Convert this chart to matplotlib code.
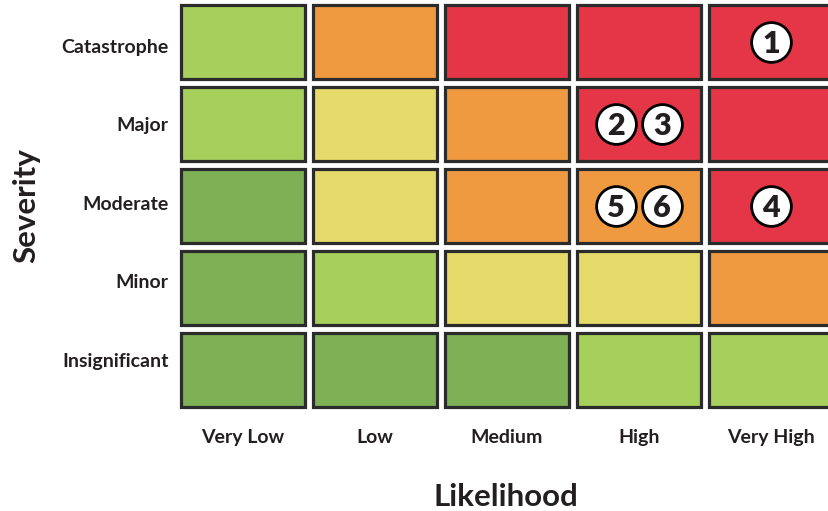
import numpy as np
import matplotlib
matplotlib.use("Agg")
import matplotlib.pyplot as plt
from matplotlib.patches import Rectangle

plt.rcParams["font.family"] = ["Lato", "DejaVu Sans"]

# data
SEVERITY = ["Catastrophe", "Major", "Moderate", "Minor", "Insignificant"]  # top to bottom
LIKELIHOOD = ["Very Low", "Low", "Medium", "High", "Very High"]
# risk level of each cell (rows follow SEVERITY, columns follow LIKELIHOOD)
LEVELS = [
    ["LG", "O", "R", "R", "R"],
    ["LG", "Y", "O", "R", "R"],
    ["DG", "Y", "O", "O", "R"],
    ["DG", "LG", "Y", "Y", "O"],
    ["DG", "DG", "DG", "LG", "LG"],
]
RISK_IDS = [1, 2, 3, 4, 5, 6]
RISK_LIKELIHOOD = ["Very High", "High", "High", "Very High", "High", "High"]
RISK_SEVERITY = ["Catastrophe", "Major", "Major", "Moderate", "Moderate", "Moderate"]

COLORS = {"DG": "#7EB056", "LG": "#A7CF5B", "Y": "#E5DA6A", "O": "#EF9A41", "R": "#E43646"}
EDGE = "#2B2B2B"
TXT = "#231F20"

fig = plt.figure(figsize=(8.29, 5.11), dpi=100)
ax = fig.add_axes([177 / 829, 100 / 511, 660 / 829, 410 / 511])
ax.set_xlim(0, 5)
ax.set_ylim(0, 5)
ax.axis("off")

gx, gy = 8 / 132, 8 / 82
nrow = len(SEVERITY)
for r, row in enumerate(LEVELS):
    y = nrow - 1 - r
    for c, lvl in enumerate(row):
        ax.add_patch(Rectangle((c + gx / 2, y + gy / 2), 1 - gx, 1 - gy,
                               facecolor=COLORS[lvl], edgecolor=EDGE, lw=2.3, clip_on=False))

# row labels sit on a slightly tighter pitch than the cells
for r, s in enumerate(SEVERITY):
    ypix = 47 + 78.5 * r
    ax.text(-0.065, (411 - ypix) / 82, s, ha="right", va="center", fontsize=14,
            fontweight="bold", color=TXT)
for c, l in enumerate(LIKELIHOOD):
    ax.text(c + 0.5, -0.32, l, ha="center", va="center", fontsize=14,
            fontweight="bold", color=TXT)
fig.text(26 / 829, 1 - 206 / 511, "Severity", rotation=90, ha="center", va="center",
         fontsize=22.5, fontweight="bold", color=TXT)
fig.text(506 / 829, 1 - 497 / 511, "Likelihood", ha="center", va="center",
         fontsize=22.5, fontweight="bold", color=TXT)

# risk markers, spread when several share a cell
cells = {}
for rid, lk, sv in zip(RISK_IDS, RISK_LIKELIHOOD, RISK_SEVERITY):
    cells.setdefault((lk, sv), []).append(rid)
for (lk, sv), ids in cells.items():
    cx = LIKELIHOOD.index(lk) + 0.5
    cy = nrow - 1 - SEVERITY.index(sv) + 0.5
    offs = (np.arange(len(ids)) - (len(ids) - 1) / 2) * 0.348
    for rid, o in zip(sorted(ids, key=lambda i: [2, 3, 5, 6, 1, 4].index(i)), offs):
        ax.scatter(cx + o, cy, s=820, facecolor="white", edgecolor="black",
                   linewidth=2.0, zorder=4, clip_on=False)
        ax.text(cx + o, cy - 0.02, str(rid), ha="center", va="center", fontsize=22,
                fontweight="heavy", color=TXT, zorder=5)

fig.savefig("out.png", dpi=100)
